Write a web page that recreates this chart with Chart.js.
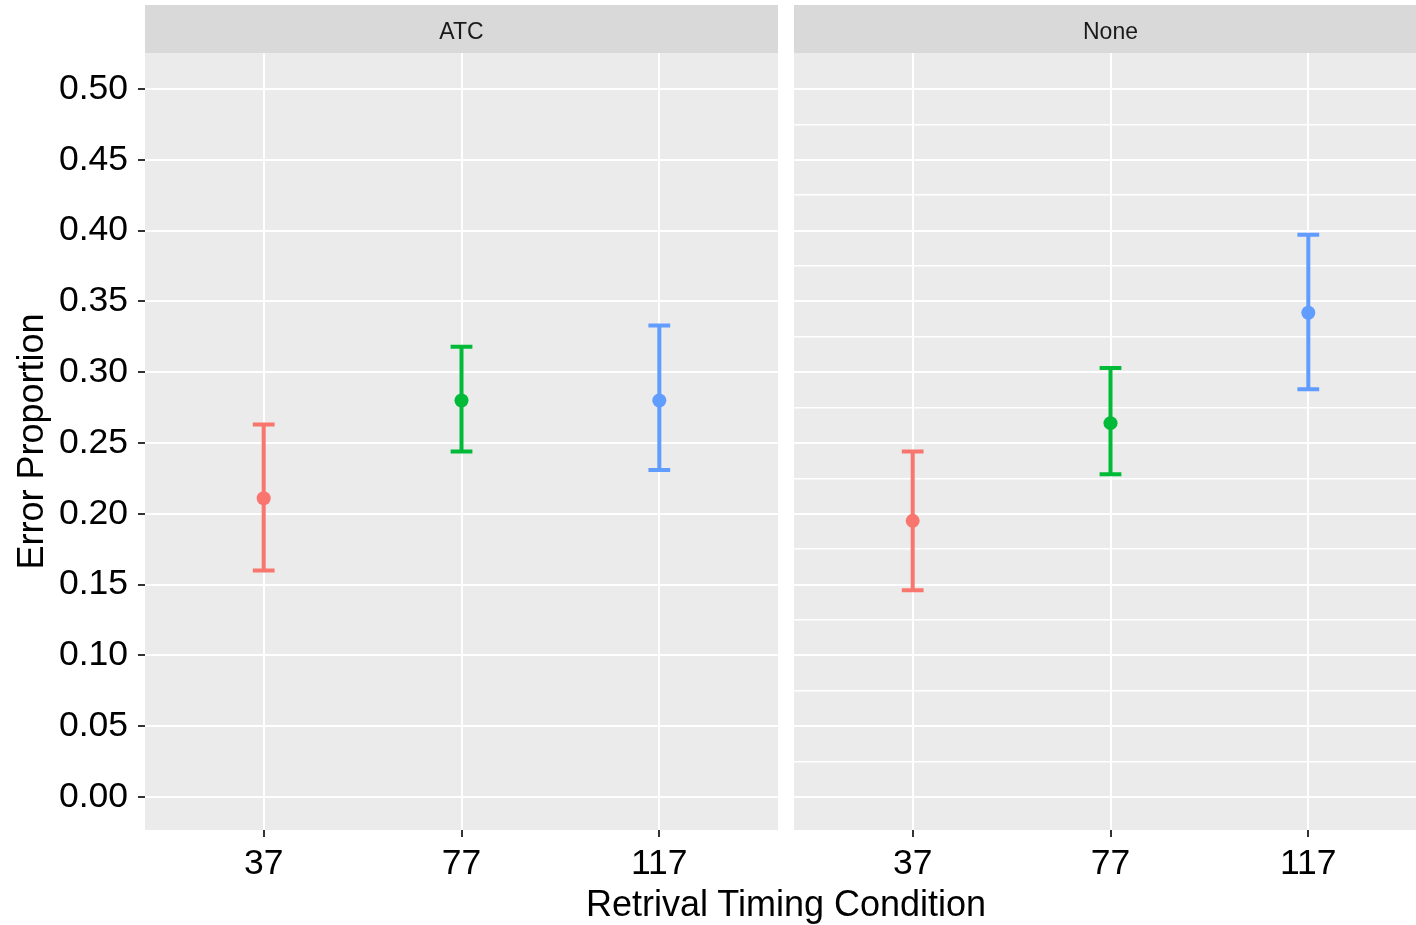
<!DOCTYPE html>
<html>
<head>
<meta charset="utf-8">
<script src="https://cdn.jsdelivr.net/npm/chart.js@4.4.0/dist/chart.umd.min.js"></script>
<style>
  html, body { margin:0; padding:0; background:#ffffff; width:1416px; height:925px; overflow:hidden; position:relative; }
  #c1 { position:absolute; left:0; top:0; }
  #c2 { position:absolute; left:794px; top:0; }
  #xtitle { position:absolute; left:786px; top:885.5px; transform:translateX(-50%); white-space:nowrap;
            font-family:"Liberation Sans", Arial, sans-serif; font-size:36px; line-height:36px; color:#000; }
</style>
</head>
<body>
<canvas id="c1" width="778" height="925"></canvas>
<canvas id="c2" width="633" height="925"></canvas>
<div id="xtitle">Retrival Timing Condition</div>
<script>
// ---- data ----
const panels = ['ATC', 'None'];
const categories = ['37', '77', '117'];
const atcMean  = [0.211, 0.280, 0.280];
const atcLower = [0.160, 0.244, 0.231];
const atcUpper = [0.263, 0.318, 0.333];
const noneMean  = [0.195, 0.264, 0.342];
const noneLower = [0.146, 0.228, 0.288];
const noneUpper = [0.244, 0.303, 0.397];
const yTickLabels = ['0.00','0.05','0.10','0.15','0.20','0.25','0.30','0.35','0.40','0.45','0.50'];
const xTitle = 'Retrival Timing Condition';
const yTitle = 'Error Proportion';

// ---- styles ----
const FONT = '"Liberation Sans", Arial, sans-serif';
const colors = ['#F8766D', '#00BA38', '#619CFF'];
const capWidth = 0.11; // in x data units

function isMajor(v) { return Math.abs(v * 20 - Math.round(v * 20)) < 1e-6; }

const panelPlugin = {
  id: 'panelDeco',
  beforeDraw(chart, args, opts) {
    const { ctx, chartArea: a } = chart;
    ctx.save();
    ctx.fillStyle = '#EBEBEB';
    ctx.fillRect(a.left, a.top, a.right - a.left, a.bottom - a.top);
    ctx.fillStyle = '#D9D9D9';
    ctx.fillRect(a.left, 5, a.right - a.left, a.top - 5);
    ctx.fillStyle = '#1A1A1A';
    ctx.font = '23px ' + FONT;
    ctx.textAlign = 'center';
    ctx.textBaseline = 'alphabetic';
    ctx.fillText(opts.title, (a.left + a.right) / 2, 39);
    ctx.restore();
  },
  beforeDatasetsDraw(chart, args, opts) {
    const { ctx } = chart;
    const xs = chart.scales.x, ys = chart.scales.y;
    ctx.save();
    ctx.lineWidth = 4;
    ctx.lineCap = 'butt';
    opts.lower.forEach((lo, i) => {
      const hi = opts.upper[i];
      const x = xs.getPixelForValue(i + 1);
      const xl = xs.getPixelForValue(i + 1 - capWidth / 2);
      const xr = xs.getPixelForValue(i + 1 + capWidth / 2);
      const yl = ys.getPixelForValue(lo), yh = ys.getPixelForValue(hi);
      ctx.strokeStyle = colors[i];
      ctx.beginPath();
      ctx.moveTo(x, yl); ctx.lineTo(x, yh);
      ctx.moveTo(xl, yl); ctx.lineTo(xr, yl);
      ctx.moveTo(xl, yh); ctx.lineTo(xr, yh);
      ctx.stroke();
    });
    ctx.restore();
  }
};

function makeChart(el, panelTitle, mean, lower, upper, showY) {
  return new Chart(el, {
    type: 'scatter',
    data: {
      datasets: [{
        data: categories.map((c, i) => ({ x: i + 1, y: mean[i] })),
        pointBackgroundColor: colors,
        pointBorderWidth: 0,
        pointRadius: 7,
        pointHoverRadius: 7
      }]
    },
    options: {
      responsive: false,
      animation: false,
      events: [],
      layout: { autoPadding: false, padding: { top: 53, left: 0, right: 0, bottom: 0 } },
      plugins: {
        legend: { display: false },
        tooltip: { enabled: false },
        panelDeco: { title: panelTitle, lower: lower, upper: upper }
      },
      scales: {
        x: {
          type: 'linear',
          min: 0.4, max: 3.6,
          afterBuildTicks: s => { s.ticks = categories.map((c, i) => ({ value: i + 1 })); },
          ticks: {
            callback: v => categories[Math.round(v) - 1],
            font: { family: FONT, size: 35.5 },
            color: '#000',
            padding: 6,
            maxRotation: 0,
            autoSkip: false
          },
          grid: { color: '#FFFFFF', lineWidth: 2, tickColor: '#333333', tickLength: 7, tickWidth: 2 },
          border: { display: false },
          afterFit: s => { s.height = 95; }
        },
        y: {
          min: -0.0233, max: 0.5254,
          afterBuildTicks: s => {
            const t = [];
            yTickLabels.forEach((lab, i) => {
              t.push({ value: Number(lab) });
              if (i < yTickLabels.length - 1) t.push({ value: (Number(lab) + Number(yTickLabels[i + 1])) / 2 });
            });
            s.ticks = t;
          },
          ticks: {
            display: showY,
            callback: v => { const idx = yTickLabels.findIndex(l => Math.abs(Number(l) - v) < 1e-9); return idx >= 0 ? yTickLabels[idx] : ''; },
            font: { family: FONT, size: 35.5 },
            color: '#000',
            padding: 10
          },
          grid: {
            color: '#FFFFFF',
            lineWidth: ctx => isMajor(ctx.tick.value) ? 2 : 1.5,
            drawTicks: showY,
            tickLength: showY ? 7 : 0,
            tickWidth: 2,
            tickColor: ctx => isMajor(ctx.tick.value) ? '#333333' : 'rgba(0,0,0,0)'
          },
          border: { display: false },
          title: {
            display: showY,
            text: yTitle,
            color: '#000',
            font: { family: FONT, size: 36 },
            padding: { top: 11, bottom: 0 }
          },
          afterFit: s => { s.width = showY ? 145 : 0; }
        }
      }
    },
    plugins: [panelPlugin]
  });
}

makeChart(document.getElementById('c1'), panels[0], atcMean, atcLower, atcUpper, true);
makeChart(document.getElementById('c2'), panels[1], noneMean, noneLower, noneUpper, false);
document.getElementById('xtitle').textContent = xTitle;
</script>
</body>
</html>
